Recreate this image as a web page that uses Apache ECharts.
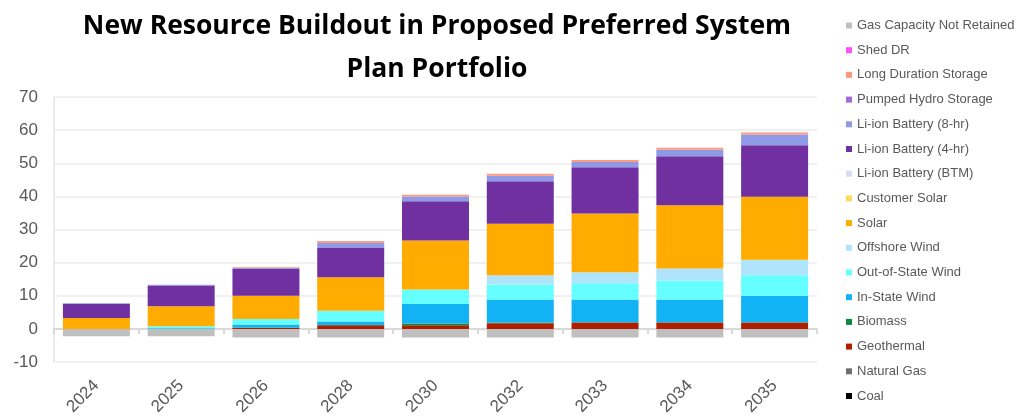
<!DOCTYPE html>
<html>
<head>
<meta charset="utf-8">
<title>New Resource Buildout</title>
<script src="https://cdn.jsdelivr.net/npm/echarts@6/dist/echarts.min.js"></script>
<style>
  html, body { margin: 0; padding: 0; background: #fff; }
  #chart { width: 1022px; height: 419px; }
</style>
</head>
<body>
<div id="chart"></div>
<script>
// years on the x axis
var years = ['2024', '2025', '2026', '2028', '2030', '2032', '2033', '2034', '2035'];

// GW added per resource, bottom of the stack first
var coal            = [0, 0, 0, 0, 0, 0, 0, 0, 0];
var naturalGas      = [0, 0, 0, 0, 0, 0, 0, 0, 0];
var geothermal      = [0, 0, 0.3, 1.1, 1.1, 1.7, 1.9, 1.9, 1.9];
var biomass         = [0, 0, 0.1, 0.1, 0.5, 0.2, 0.1, 0.1, 0.1];
var inStateWind     = [0, 0.2, 0.9, 1.0, 5.9, 7.0, 6.9, 6.9, 8.0];
var outOfStateWind  = [0, 0.6, 1.7, 3.3, 4.4, 4.5, 4.9, 5.7, 6.2];
var offshoreWind    = [0, 0, 0, 0, 0, 2.8, 3.3, 3.6, 4.7];
var solar           = [3.3, 6.0, 7.0, 10.1, 14.8, 15.5, 17.7, 19.1, 19.0];
var customerSolar   = [0, 0, 0, 0, 0, 0, 0, 0, 0];
var liBtm           = [0, 0, 0, 0, 0, 0, 0, 0, 0];
var li4hr           = [4.2, 6.3, 8.2, 8.8, 11.8, 12.9, 14.0, 14.8, 15.5];
var li8hr           = [0.2, 0.2, 0.2, 1.5, 1.5, 1.6, 1.6, 2.0, 3.3];
var pumpedHydro     = [0, 0, 0, 0, 0, 0, 0, 0, 0];
var longDuration    = [0, 0, 0.2, 0.6, 0.5, 0.6, 0.6, 0.6, 0.6];
var shedDR          = [0, 0, 0, 0, 0, 0, 0, 0, 0];
var gasNotRetained  = [-2.2, -2.2, -2.6, -2.6, -2.6, -2.6, -2.6, -2.6, -2.6];

var yTicks = { min: -10, max: 70, step: 10 };

var seriesDefs = [
  { name: 'Coal', data: coal, color: '#000000' },
  { name: 'Natural Gas', data: naturalGas, color: '#707070' },
  { name: 'Geothermal', data: geothermal, color: '#b01e00' },
  { name: 'Biomass', data: biomass, color: '#0a8a3c' },
  { name: 'In-State Wind', data: inStateWind, color: '#12b3f5' },
  { name: 'Out-of-State Wind', data: outOfStateWind, color: '#66ffff' },
  { name: 'Offshore Wind', data: offshoreWind, color: '#b0e4fa' },
  { name: 'Solar', data: solar, color: '#ffab00' },
  { name: 'Customer Solar', data: customerSolar, color: '#ffd966' },
  { name: 'Li-ion Battery (BTM)', data: liBtm, color: '#d9dcf5' },
  { name: 'Li-ion Battery (4-hr)', data: li4hr, color: '#7030a0' },
  { name: 'Li-ion Battery (8-hr)', data: li8hr, color: '#8e9ae6' },
  { name: 'Pumped Hydro Storage', data: pumpedHydro, color: '#a66bd6' },
  { name: 'Long Duration Storage', data: longDuration, color: '#ff9980' },
  { name: 'Shed DR', data: shedDR, color: '#ff4dff' },
  { name: 'Gas Capacity Not Retained', data: gasNotRetained, color: '#bfbfbf' }
];

var chart = echarts.init(document.getElementById('chart'));

var series = seriesDefs.map(function (s) {
  return {
    name: s.name,
    type: 'bar',
    stack: 'total',
    xAxisIndex: 0,
    barCategoryGap: '21%',
    data: s.data,
    itemStyle: { color: s.color },
    emphasis: { disabled: true }
  };
});

var option = {
  animation: false,
  title: {
    text: 'New Resource Buildout in Proposed Preferred System\nPlan Portfolio',
    left: 432,
    top: 0,
    textAlign: 'center',
    textStyle: {
      fontFamily: 'Open Sans',
      fontWeight: 'bold',
      fontSize: 26.5,
      lineHeight: 43,
      color: '#000'
    }
  },
  legend: {
    orient: 'vertical',
    left: 841,
    top: 14,
    itemWidth: 6,
    itemHeight: 6,
    itemGap: 11.7,
    icon: 'rect',
    data: seriesDefs.map(function (s) { return s.name; }).reverse(),
    textStyle: { fontFamily: 'Liberation Sans', fontSize: 13, color: '#595959' }
  },
  grid: { left: 54, right: 205, top: 97, bottom: 57, containLabel: false },
  xAxis: [
    {
      // line at zero with the ticks
      type: 'category',
      data: years,
      position: 'bottom',
      axisLine: { onZero: true, lineStyle: { color: '#d9d9d9', width: 2 } },
      axisTick: { show: true, length: 5, lineStyle: { color: '#d9d9d9', width: 2 } },
      axisLabel: { show: false }
    },
    {
      // labels at the bottom
      type: 'category',
      data: years,
      position: 'bottom',
      axisLine: { show: false, onZero: false },
      axisTick: { show: false },
      axisLabel: {
        rotate: 45,
        margin: 21,
        fontFamily: 'Liberation Sans',
        fontSize: 17,
        color: '#595959'
      }
    }
  ],
  yAxis: {
    type: 'value',
    min: yTicks.min,
    max: yTicks.max,
    interval: yTicks.step,
    axisLine: { show: true, lineStyle: { color: '#e3e3e3', width: 1.5 } },
    axisTick: { show: false },
    splitLine: { lineStyle: { color: '#ededed', width: 1.5 } },
    axisLabel: {
      margin: 16,
      fontFamily: 'Liberation Sans',
      fontSize: 17,
      color: '#595959'
    }
  },
  series: series
};

chart.setOption(option);
</script>
</body>
</html>
